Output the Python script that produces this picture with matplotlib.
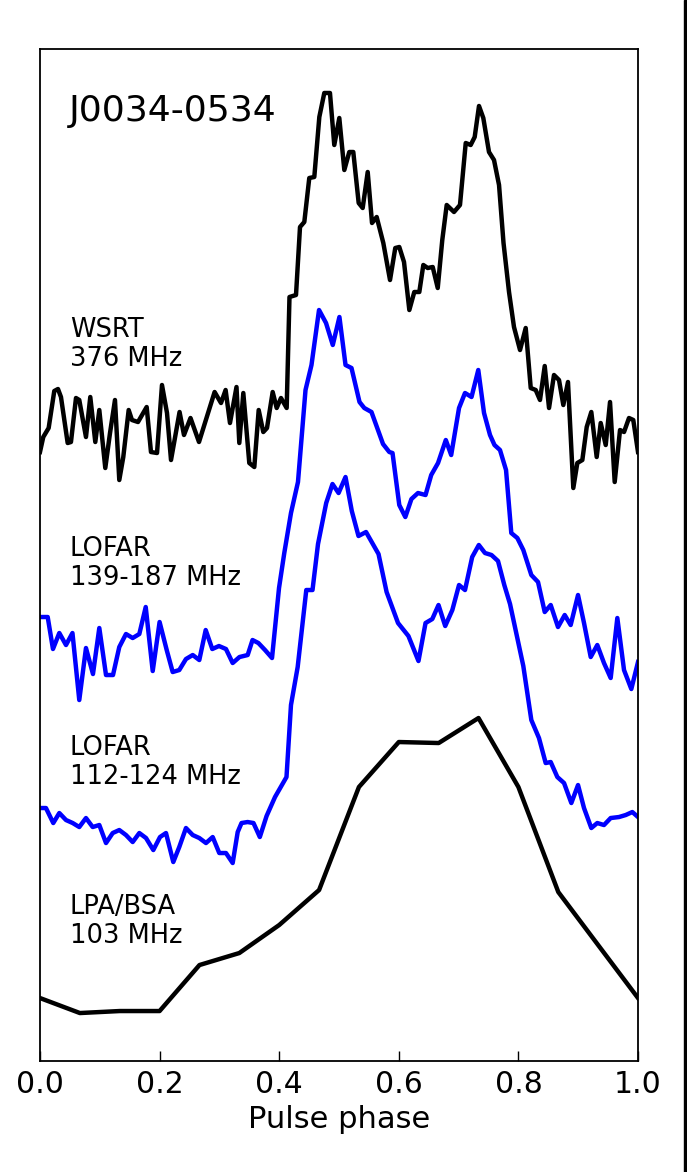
import matplotlib
matplotlib.use("Agg")
import matplotlib.pyplot as plt
from matplotlib.patches import Rectangle

# Perfiles (fase, intensidad con offset)
wsrt_phase = [0.0, 0.0055, 0.0145, 0.0239, 0.0301, 0.0351, 0.0463, 0.0518, 0.0602, 0.0657,
              0.0769, 0.0841, 0.0925, 0.0992, 0.1092, 0.1171, 0.1254, 0.1326, 0.1393, 0.1483,
              0.1538, 0.1639, 0.1784, 0.1856, 0.1957, 0.2040, 0.2124, 0.2191, 0.2334, 0.2408,
              0.2517, 0.2659, 0.2920, 0.3027, 0.3104, 0.3177, 0.3286, 0.3333, 0.3400, 0.3500,
              0.3584, 0.3657, 0.3734, 0.3796, 0.3891, 0.3958, 0.4030, 0.4125, 0.4172, 0.4281,
              0.4348, 0.4420, 0.4503, 0.4587, 0.4671, 0.4754, 0.4849, 0.4921, 0.5005, 0.5089,
              0.5172, 0.5239, 0.5329, 0.5396, 0.5480, 0.5552, 0.5630, 0.5741, 0.5853, 0.5941,
              0.6008, 0.6087, 0.6176, 0.6259, 0.6343, 0.6410, 0.6483, 0.6567, 0.6651, 0.6727,
              0.6801, 0.6923, 0.7023, 0.7119, 0.7202, 0.7269, 0.7341, 0.7413, 0.7508, 0.7592,
              0.7676, 0.7751, 0.7843, 0.7926, 0.8027, 0.8122, 0.8206, 0.8289, 0.8361, 0.8440,
              0.8512, 0.8595, 0.8679, 0.8751, 0.8829, 0.8918, 0.8985, 0.9069, 0.9142, 0.9219,
              0.9309, 0.9376, 0.9460, 0.9532, 0.9610, 0.9699, 0.9766, 0.9849, 0.9921, 1.0]
wsrt_flux = [60.8, 62.3, 63.2, 66.9, 67.1, 66.3, 61.7, 61.8, 66.2, 66.0,
             62.3, 66.3, 61.8, 65.0, 59.2, 62.7, 66.0, 58.0, 60.3, 65.0,
             64.0, 63.8, 65.3, 60.8, 60.7, 67.5, 64.7, 60.0, 64.8, 62.5,
             64.2, 61.8, 66.8, 65.7, 67.0, 63.7, 67.3, 61.7, 66.7, 59.7,
             59.3, 65.0, 62.8, 63.2, 66.8, 65.2, 66.2, 65.2, 76.3, 76.5,
             83.3, 83.8, 88.2, 88.3, 94.3, 96.7, 96.7, 91.5, 94.2, 89.0,
             90.8, 90.8, 85.7, 85.2, 88.8, 83.7, 84.3, 81.7, 78.0, 81.2,
             81.3, 79.8, 75.0, 76.8, 76.8, 79.5, 79.2, 79.3, 77.2, 82.0,
             85.5, 84.8, 85.5, 91.7, 91.5, 92.3, 95.4, 94.2, 90.8, 90.0,
             87.5, 81.7, 76.8, 73.3, 71.0, 73.2, 67.2, 67.0, 66.0, 69.4,
             65.2, 68.5, 68.0, 65.5, 67.8, 57.2, 59.7, 60.0, 63.3, 64.8,
             60.3, 63.7, 61.5, 65.8, 57.8, 63.0, 62.8, 64.2, 64.0, 60.8]

hba_phase = [0.0, 0.0129, 0.0217, 0.0323, 0.0435, 0.0543, 0.0657, 0.0769, 0.0886, 0.0992,
             0.1104, 0.1221, 0.1326, 0.1438, 0.1550, 0.1661, 0.1768, 0.1885, 0.2000, 0.2119,
             0.2219, 0.2329, 0.2441, 0.2554, 0.2664, 0.2771, 0.2881, 0.2993, 0.3110, 0.3222,
             0.3336, 0.3473, 0.3554, 0.3652, 0.3763, 0.3880, 0.3997, 0.4085, 0.4197, 0.4314,
             0.4440, 0.4540, 0.4666, 0.4783, 0.4896, 0.5007, 0.5109, 0.5209, 0.5343, 0.5423,
             0.5543, 0.5736, 0.5841, 0.5895, 0.6008, 0.6109, 0.6211, 0.6321, 0.6447, 0.6542,
             0.6656, 0.6786, 0.6876, 0.7007, 0.7107, 0.7216, 0.7329, 0.7425, 0.7525, 0.7600,
             0.7692, 0.7793, 0.7881, 0.7982, 0.8082, 0.8216, 0.8328, 0.8440, 0.8540, 0.8662,
             0.8774, 0.8874, 0.8997, 0.9097, 0.9209, 0.9319, 0.9431, 0.9543, 0.9654, 0.9766,
             0.9888, 1.0]
hba_flux = [44.3, 44.3, 41.1, 42.7, 41.5, 42.7, 36.0, 41.2, 38.6, 43.2,
            38.5, 38.5, 41.3, 42.6, 42.2, 42.6, 45.3, 38.9, 43.8, 41.0,
            38.8, 39.0, 40.1, 40.5, 40.0, 43.0, 41.1, 41.4, 41.1, 39.7,
            40.3, 40.5, 42.0, 41.7, 41.0, 40.2, 47.2, 50.7, 54.7, 57.8,
            67.0, 69.5, 75.0, 73.7, 71.5, 74.3, 69.5, 69.2, 65.8, 65.2,
            64.8, 61.6, 60.8, 60.7, 55.5, 54.3, 56.1, 56.7, 56.5, 58.5,
            59.7, 62.0, 60.5, 65.2, 66.7, 66.3, 69.0, 64.7, 62.5, 61.5,
            61.0, 59.0, 52.7, 52.2, 51.0, 48.5, 47.8, 44.8, 45.5, 43.3,
            44.5, 43.5, 46.5, 43.7, 40.3, 41.5, 39.7, 38.2, 44.2, 39.0,
            37.1, 39.8]

lba_phase = [0.0, 0.0100, 0.0222, 0.0323, 0.0435, 0.0547, 0.0657, 0.0769, 0.0881, 0.0992,
             0.1104, 0.1216, 0.1326, 0.1438, 0.1550, 0.1661, 0.1773, 0.1895, 0.2007, 0.2107,
             0.2229, 0.2329, 0.2441, 0.2554, 0.2664, 0.2776, 0.2888, 0.2998, 0.3110, 0.3222,
             0.3306, 0.3370, 0.3472, 0.3570, 0.3676, 0.3789, 0.3930, 0.4122, 0.4197, 0.4309,
             0.4453, 0.4557, 0.4649, 0.4786, 0.4891, 0.4993, 0.5109, 0.5214, 0.5326, 0.5452,
             0.5661, 0.5796, 0.5987, 0.6161, 0.6329, 0.6447, 0.6560, 0.6664, 0.6776, 0.6895,
             0.7007, 0.7107, 0.7227, 0.7338, 0.7441, 0.7550, 0.7659, 0.7764, 0.7860, 0.8082,
             0.8216, 0.8344, 0.8456, 0.8540, 0.8651, 0.8763, 0.8885, 0.8997, 0.9097, 0.9219,
             0.9319, 0.9431, 0.9543, 0.9682, 0.9794, 0.9905, 1.0]
lba_flux = [25.2, 25.2, 23.7, 24.7, 24.0, 23.7, 23.3, 24.2, 23.3, 23.5,
            21.7, 22.7, 23.0, 22.5, 21.8, 22.7, 22.2, 21.0, 22.3, 22.7,
            19.8, 21.3, 23.2, 22.5, 22.2, 21.7, 22.3, 20.7, 20.7, 19.7,
            22.8, 23.7, 23.8, 23.7, 22.3, 24.4, 26.3, 28.3, 35.5, 39.3,
            47.0, 47.0, 51.6, 55.7, 57.6, 56.7, 58.3, 54.9, 52.4, 52.8,
            50.6, 46.8, 43.7, 42.4, 39.9, 43.7, 44.1, 45.5, 43.4, 45.0,
            47.5, 47.0, 50.3, 51.5, 50.7, 50.5, 49.9, 47.5, 45.6, 39.4,
            34.0, 32.2, 29.7, 29.8, 28.3, 27.7, 25.7, 27.5, 25.2, 23.2,
            23.7, 23.5, 24.2, 24.3, 24.5, 24.8, 24.3]

lpa_phase = [0.0, 0.0667, 0.1333, 0.2, 0.2667, 0.3333, 0.4, 0.4667,
             0.5333, 0.6, 0.6667, 0.7333, 0.8, 0.8667, 0.9333, 1.0]
lpa_flux = [6.2, 4.7, 4.9, 4.9, 9.5, 10.7, 13.5, 17.0,
            27.3, 31.8, 31.7, 34.2, 27.3, 16.8, 11.5, 6.2]

labels = ["WSRT\n376 MHz", "LOFAR\n139-187 MHz", "LOFAR\n112-124 MHz", "LPA/BSA\n103 MHz"]
label_y = [74.3, 52.4, 32.5, 16.6]
pulsar = "J0034-0534"

fig = plt.figure(figsize=(6.87, 11.72), dpi=100)
ax = fig.add_axes([0.0582, 0.0951, 0.8705, 0.8631])

ax.plot(wsrt_phase, wsrt_flux, color="black", lw=3.2)
ax.plot(hba_phase, hba_flux, color="blue", lw=3.2)
ax.plot(lba_phase, lba_flux, color="blue", lw=3.2)
ax.plot(lpa_phase, lpa_flux, color="black", lw=3.2)

for txt, y in zip(labels, label_y):
    ax.text(0.05, y, txt, fontsize=18.5, ha="left", va="top", linespacing=1.15)

ax.text(0.048, 96.6, pulsar, fontsize=26, ha="left", va="top")

ax.set_xlim(0, 1)
ax.set_ylim(-0.05, 101.1)
ax.set_xticks([0.0, 0.2, 0.4, 0.6, 0.8, 1.0])
ax.set_xticklabels(["0.0", "0.2", "0.4", "0.6", "0.8", "1.0"])
ax.set_yticks([])
ax.tick_params(axis="x", direction="in", length=7, width=1, labelsize=21.5, pad=7,
               top=False)
ax.set_xlabel("Pulse phase", fontsize=22, labelpad=4)
for sp in ax.spines.values():
    sp.set_linewidth(1.3)

# borde negro del lado derecho de la imagen
fig.patches.append(Rectangle((684 / 687, 0), 3 / 687, 1, transform=fig.transFigure,
                             color="black", zorder=10))

fig.savefig("out.png", dpi=100)
